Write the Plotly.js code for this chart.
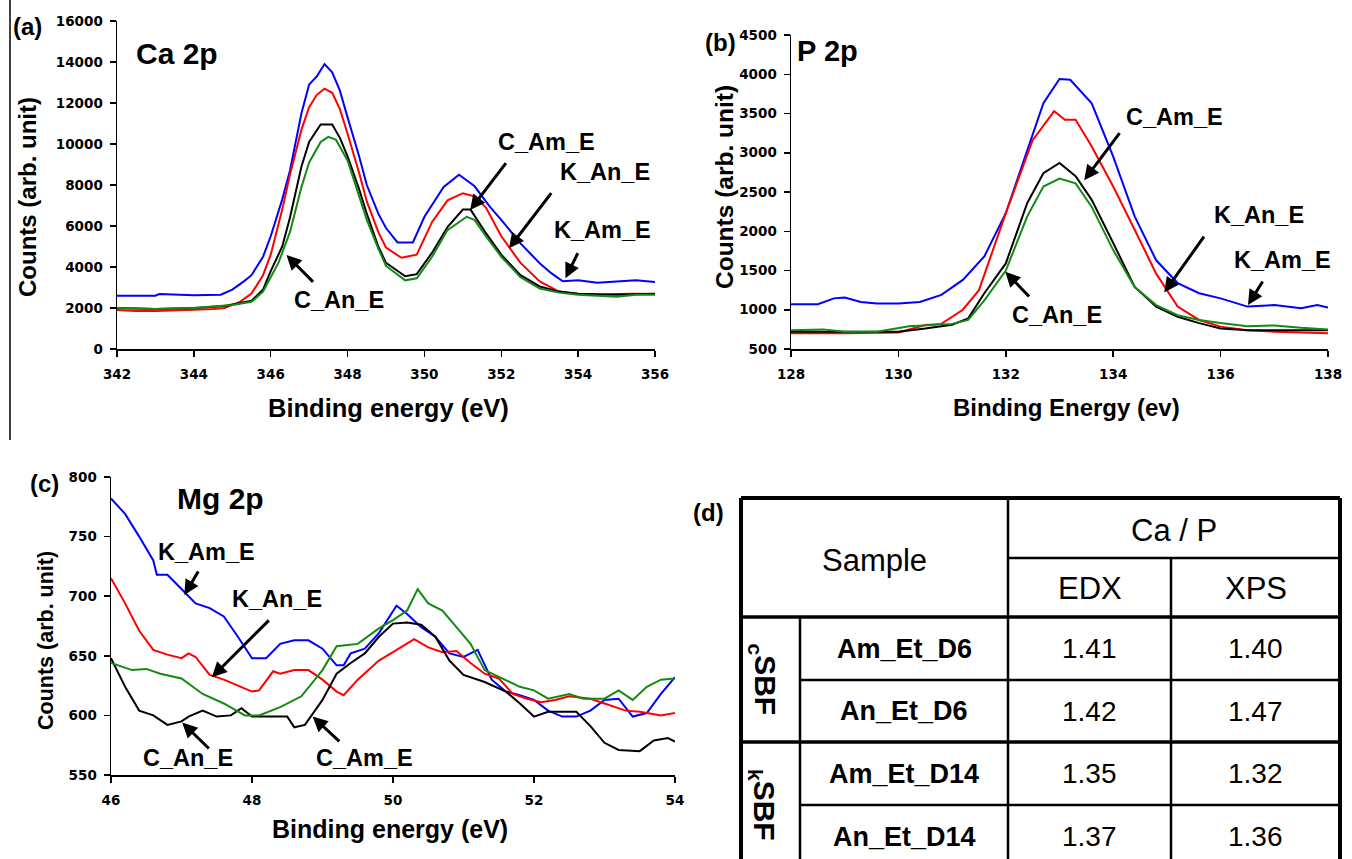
<!DOCTYPE html>
<html>
<head>
<meta charset="utf-8">
<script src="https://cdn.plot.ly/plotly-3.0.1.min.js"></script>
<style>html,body{margin:0;padding:0;background:#fff;}#chart{width:1352px;height:859px;}</style>
</head>
<body>
<div id="chart"></div>
<script>
// ---------------- DATA ----------------
// (a) Ca 2p
var caKAmE_x = [342, 343, 343.1, 344, 344.7, 345, 345.3, 345.5, 345.8, 346, 346.3, 346.5, 346.8, 347, 347.2, 347.4, 347.6, 347.8, 348, 348.3, 348.5, 348.8, 349, 349.3, 349.7, 350, 350.5, 350.9, 351.3, 351.7, 352, 352.5, 353, 353.3, 353.6, 354, 354.5, 355, 355.5, 356];
var caKAmE_y = [2600, 2600, 2680, 2620, 2650, 2900, 3300, 3600, 4500, 5500, 7300, 8700, 11500, 12900, 13300, 13900, 13500, 12600, 11300, 9400, 8000, 6600, 5900, 5200, 5200, 6450, 7900, 8500, 7950, 6950, 6300, 5150, 4180, 3700, 3300, 3350, 3230, 3280, 3350, 3270];
var caKAnE_x = [342, 342.5, 343, 343.5, 344, 344.5, 344.8, 345.2, 345.5, 345.8, 346, 346.3, 346.5, 346.8, 347, 347.2, 347.4, 347.6, 347.8, 348, 348.3, 348.5, 348.8, 349, 349.4, 349.8, 350.2, 350.6, 351, 351.3, 351.6, 352, 352.5, 353, 353.5, 354, 354.5, 355, 355.5, 356];
var caKAnE_y = [1900, 1850, 1850, 1900, 1920, 1950, 2000, 2300, 2700, 3600, 4600, 6800, 8500, 10700, 11800, 12400, 12700, 12500, 11700, 10500, 8600, 7200, 5700, 4950, 4450, 4600, 6200, 7250, 7600, 7450, 6900, 5500, 4200, 3300, 2800, 2680, 2650, 2680, 2700, 2680];
var caCAmE_x = [342, 343, 344, 344.8, 345.5, 345.8, 346, 346.3, 346.5, 346.8, 347, 347.3, 347.6, 347.8, 348, 348.3, 348.5, 348.8, 349, 349.5, 349.8, 350.2, 350.6, 351, 351.2, 351.6, 352, 352.5, 353, 353.5, 354, 355, 356];
var caCAmE_y = [2000, 1950, 2000, 2100, 2350, 2900, 3800, 5000, 6400, 8900, 10100, 10950, 10950, 10300, 9400, 7800, 6600, 5000, 4200, 3550, 3650, 4700, 5950, 6800, 6800, 5650, 4600, 3600, 3050, 2800, 2700, 2650, 2700];
var caCAnE_x = [342, 343, 344, 345, 345.5, 345.8, 346, 346.2, 346.5, 346.8, 347, 347.3, 347.5, 347.7, 348, 348.3, 348.5, 348.8, 349, 349.5, 349.8, 350.2, 350.6, 351.1, 351.3, 351.6, 352, 352.5, 353, 353.5, 354, 354.5, 355, 355.5, 356];
var caCAnE_y = [2000, 1950, 2000, 2150, 2300, 2800, 3500, 4200, 5700, 7900, 9100, 10100, 10350, 10200, 9200, 7400, 6300, 4900, 4050, 3350, 3450, 4500, 5800, 6450, 6300, 5500, 4500, 3500, 2950, 2750, 2650, 2600, 2550, 2650, 2650];

// (b) P 2p
var pKAmE_x = [128, 128.5, 128.8, 129, 129.3, 129.6, 130, 130.4, 130.8, 131.2, 131.6, 132, 132.4, 132.7, 133, 133.2, 133.6, 134, 134.4, 134.8, 135.2, 135.6, 136, 136.5, 137, 137.5, 137.8, 138];
var pKAmE_y = [1070, 1070, 1145, 1155, 1100, 1080, 1080, 1100, 1190, 1380, 1680, 2230, 3030, 3630, 3940, 3930, 3630, 2950, 2190, 1630, 1340, 1210, 1145, 1040, 1060, 1020, 1060, 1030];
var pKAnE_x = [128, 129, 130, 130.5, 130.8, 131, 131.2, 131.5, 132, 132.5, 132.9, 133.1, 133.3, 133.6, 134, 134.4, 134.8, 135.2, 135.6, 136, 136.5, 137, 137.5, 138];
var pKAnE_y = [700, 700, 710, 805, 820, 910, 1000, 1250, 2230, 3160, 3530, 3420, 3420, 3080, 2570, 2020, 1460, 1040, 870, 785, 740, 720, 710, 700];
var pCAmE_x = [128, 129, 130, 130.5, 131, 131.3, 131.6, 132, 132.4, 132.7, 133, 133.3, 133.6, 134, 134.4, 134.8, 135.2, 135.6, 136, 136.5, 137, 138];
var pCAmE_y = [720, 720, 720, 760, 810, 890, 1210, 1590, 2360, 2740, 2870, 2700, 2400, 1850, 1290, 1040, 910, 830, 760, 740, 740, 740];
var pCAnE_x = [128, 128.6, 129, 129.6, 130.2, 130.5, 131, 131.3, 131.6, 132, 132.4, 132.7, 133, 133.3, 133.6, 134, 134.4, 134.8, 135.2, 135.6, 136, 136.5, 137, 137.5, 138];
var pCAnE_y = [740, 750, 720, 720, 790, 800, 820, 870, 1120, 1500, 2190, 2570, 2670, 2610, 2310, 1760, 1290, 1060, 930, 870, 830, 790, 800, 770, 750];

// (c) Mg 2p
var mgKAmE_x = [46.0, 46.2, 46.4, 46.6, 46.65, 46.8, 47.0, 47.2, 47.4, 47.6, 47.8, 48.0, 48.2, 48.4, 48.6, 48.8, 49.0, 49.2, 49.3, 49.4, 49.6, 49.8, 50.05, 50.2, 50.4, 50.6, 50.8, 51.0, 51.2, 51.4, 51.6, 51.8, 52.0, 52.2, 52.4, 52.6, 52.8, 53.0, 53.2, 53.4, 53.6, 53.8, 54.0];
var mgKAmE_y = [782, 769, 750, 730, 718, 718, 706, 694, 690, 683, 666, 648, 648, 660, 663, 663, 656, 642, 642, 652, 656, 669, 692, 685, 674, 666, 652, 649, 655, 630, 620, 617, 613, 604, 599, 599, 604, 613, 614, 599, 602, 618, 632];
var mgKAnE_x = [46.0, 46.2, 46.4, 46.6, 46.8, 47.0, 47.1, 47.2, 47.4, 47.6, 47.8, 48.0, 48.1, 48.3, 48.4, 48.6, 48.8, 49.0, 49.2, 49.3, 49.5, 49.8, 50.0, 50.3, 50.5, 50.7, 50.9, 51.1, 51.3, 51.5, 51.7, 51.9, 52.1, 52.3, 52.5, 52.8, 53.0, 53.3, 53.5, 53.8, 54.0];
var mgKAnE_y = [715, 694, 671, 655, 651, 648, 652, 649, 634, 630, 625, 620, 621, 637, 635, 638, 638, 630, 620, 617, 630, 646, 653, 664, 657, 653, 654, 644, 635, 631, 618, 614, 611, 613, 616, 614, 610, 604, 603, 600, 602];
var mgCAmE_x = [46.0, 46.2, 46.4, 46.6, 46.8, 47.0, 47.1, 47.3, 47.5, 47.7, 47.85, 48.0, 48.3, 48.5, 48.6, 48.75, 49.0, 49.2, 49.4, 49.6, 49.8, 50.0, 50.2, 50.4, 50.6, 50.8, 51.0, 51.3, 51.6, 51.8, 52.0, 52.2, 52.6, 52.8, 53.0, 53.2, 53.5, 53.7, 53.9, 54.0];
var mgCAmE_y = [648, 624, 604, 600, 592, 595, 599, 604, 599, 600, 606, 599, 599, 599, 590, 592, 613, 635, 644, 652, 666, 677, 678, 676, 666, 646, 634, 628, 620, 610, 599, 603, 603, 591, 577, 571, 570, 579, 581, 578];
var mgCAnE_x = [46.0, 46.3, 46.5, 46.7, 47.0, 47.3, 47.6, 47.9, 48.1, 48.4, 48.7, 49.0, 49.2, 49.5, 49.8, 50.0, 50.2, 50.35, 50.5, 50.7, 50.9, 51.1, 51.3, 51.6, 51.8, 52.0, 52.2, 52.5, 52.7, 53.0, 53.2, 53.4, 53.6, 53.8, 54.0];
var mgCAnE_y = [644, 638, 639, 635, 631, 618, 610, 600, 600, 607, 616, 638, 658, 660, 673, 680, 688, 706, 694, 688, 674, 660, 638, 630, 624, 621, 614, 618, 614, 614, 621, 613, 624, 630, 631];

// (d) table
var tableGroups = ['<sub>c</sub>SBF', '<sub>k</sub>SBF'];
var tableSamples = ['Am_Et_D6', 'An_Et_D6', 'Am_Et_D14', 'An_Et_D14'];
var tableEDX = ['1.41', '1.42', '1.35', '1.37'];
var tableXPS = ['1.40', '1.47', '1.32', '1.36'];
var tableHeader = ['Sample', 'Ca / P', 'EDX', 'XPS'];

// ---------------- LAYOUT HELPERS ----------------
var W = 1352, H = 859;
function px(x) { return x / W; }
function py(y) { return 1 - y / H; }

var COL = {blue: '#0000ff', red: '#ff0000', black: '#000000', green: '#138a13'};
var tickFont = {family: 'DejaVu Sans', size: 13.5, color: '#000', weight: 'bold'};
var labFont = {family: 'Liberation Sans', size: 23.5, color: '#000', weight: 'bold'};

function tr(x, y, c, xa, ya, name) {
  return {x: x, y: y, type: 'scatter', mode: 'lines', name: name, xaxis: xa, yaxis: ya,
          line: {color: c, width: 2}, showlegend: false, hoverinfo: 'skip'};
}

var data = [
  tr(caKAmE_x, caKAmE_y, COL.blue, 'x', 'y', 'K_Am_E'),
  tr(caKAnE_x, caKAnE_y, COL.red, 'x', 'y', 'K_An_E'),
  tr(caCAmE_x, caCAmE_y, COL.black, 'x', 'y', 'C_Am_E'),
  tr(caCAnE_x, caCAnE_y, COL.green, 'x', 'y', 'C_An_E'),
  tr(pKAmE_x, pKAmE_y, COL.blue, 'x2', 'y2', 'K_Am_E'),
  tr(pKAnE_x, pKAnE_y, COL.red, 'x2', 'y2', 'K_An_E'),
  tr(pCAmE_x, pCAmE_y, COL.black, 'x2', 'y2', 'C_Am_E'),
  tr(pCAnE_x, pCAnE_y, COL.green, 'x2', 'y2', 'C_An_E'),
  tr(mgKAmE_x, mgKAmE_y, COL.blue, 'x3', 'y3', 'K_Am_E'),
  tr(mgKAnE_x, mgKAnE_y, COL.red, 'x3', 'y3', 'K_An_E'),
  tr(mgCAmE_x, mgCAmE_y, COL.black, 'x3', 'y3', 'C_Am_E'),
  tr(mgCAnE_x, mgCAnE_y, COL.green, 'x3', 'y3', 'C_An_E')
];

function ax(domain, range, dtick, anchor, standoff) {
  return {domain: domain, range: range, dtick: dtick, anchor: anchor, tickformat: 'd',
          showline: true, linecolor: '#000', linewidth: 1.5, ticks: 'outside', ticklen: 6,
          tickwidth: 1.5, tickcolor: '#000', showgrid: false, zeroline: false,
          tickfont: tickFont, fixedrange: true, ticklabelstandoff: standoff};
}

var layout = {
  width: W, height: H, margin: {l: 0, r: 0, t: 0, b: 0},
  paper_bgcolor: '#fff', plot_bgcolor: 'rgba(0,0,0,0)', showlegend: false,
  xaxis: ax([px(117), px(655)], [342, 356], 2, 'y', 6),
  yaxis: ax([py(349), py(21)], [0, 16000], 2000, 'x', 4),
  xaxis2: ax([px(791), px(1328)], [128, 138], 2, 'y2', 6),
  yaxis2: ax([py(349), py(35)], [500, 4500], 500, 'x2', 4),
  xaxis3: ax([px(111), px(675)], [46, 54], 2, 'y3', 6),
  yaxis3: ax([py(775), py(477)], [550, 800], 50, 'x3', 4),
  annotations: [], shapes: []
};

var A = layout.annotations, S = layout.shapes;

function ptext(t, x, y, font, angle) {
  A.push({text: t, xref: 'paper', yref: 'paper', x: px(x), y: py(y), xanchor: 'center', yanchor: 'middle',
          showarrow: false, font: font, textangle: angle || 0});
}
function dtext(t, x, y, xr, yr, font) {
  A.push({text: t, xref: xr, yref: yr, x: x, y: y, xanchor: 'center', yanchor: 'middle', showarrow: false, font: font || labFont});
}
function arrow(tx, ty, hx, hy, xr, yr) {
  A.push({text: '', xref: xr, yref: yr, axref: xr, ayref: yr, x: hx, y: hy, ax: tx, ay: ty,
          showarrow: true, arrowhead: 2, arrowsize: 1, arrowwidth: 3, arrowcolor: '#000', standoff: 0, startstandoff: 0});
}
function tf(size) { return {family: 'Liberation Sans', size: size, color: '#000', weight: 'bold'}; }

var panelFont = tf(24);
var elemFont = tf(30);

// panel letters
ptext('(a)', 27, 27, panelFont);
ptext('(b)', 720, 43, panelFont);
ptext('(c)', 44, 483, panelFont);
ptext('(d)', 708, 512, panelFont);

// axis titles
ptext('Counts (arb. unit)', 27, 197, tf(24), -90);
ptext('Binding energy (eV)', 388, 408, tf(25.5));
ptext('Counts (arb. unit)', 724, 187, tf(24.5), -90);
ptext('Binding Energy (ev)', 1066, 407, tf(24));
ptext('Counts (arb. unit)', 46, 641, tf(21.5), -90);
ptext('Binding energy (eV)', 390, 829, tf(25));

// element labels
dtext('Ca 2p', 343.55, 14420, 'x', 'y', elemFont);
dtext('P 2p', 128.68, 4290, 'x2', 'y2', tf(29));
dtext('Mg 2p', 47.55, 782, 'x3', 'y3', elemFont);

// panel (a) labels & arrows
dtext('C_Am_E', 353.17, 10110, 'x', 'y');
dtext('K_An_E', 354.69, 8650, 'x', 'y');
dtext('K_Am_E', 354.64, 5800, 'x', 'y');
dtext('C_An_E', 347.77, 2390, 'x', 'y');
arrow(352.15, 9140, 351.19, 6780, 'x', 'y');
arrow(353.33, 7680, 352.2, 4910, 'x', 'y');
arrow(354.01, 4750, 353.67, 3450, 'x', 'y');
arrow(347.14, 3200, 346.41, 4590, 'x', 'y');

// panel (b)
dtext('C_Am_E', 135.15, 3460, 'x2', 'y2');
dtext('K_An_E', 136.71, 2210, 'x2', 'y2');
dtext('K_Am_E', 137.16, 1630, 'x2', 'y2');
dtext('C_An_E', 132.96, 933, 'x2', 'y2');
arrow(134.14, 3270, 133.46, 2650, 'x2', 'y2');
arrow(135.71, 1950, 134.95, 1220, 'x2', 'y2');
arrow(136.8, 1380, 136.51, 1060, 'x2', 'y2');
arrow(132.46, 1150, 131.99, 1485, 'x2', 'y2');

// panel (c)
dtext('K_Am_E', 47.35, 737, 'x3', 'y3');
dtext('K_An_E', 48.36, 698, 'x3', 'y3');
dtext('C_An_E', 47.09, 564, 'x3', 'y3');
dtext('C_Am_E', 49.59, 564, 'x3', 'y3');
arrow(47.25, 722, 47.04, 701, 'x3', 'y3');
arrow(48.26, 681, 47.43, 632, 'x3', 'y3');
arrow(47.41, 571, 47.01, 594, 'x3', 'y3');
arrow(49.26, 577, 48.86, 599, 'x3', 'y3');

// left border line of panel (a)
S.push({type: 'line', xref: 'paper', yref: 'paper', x0: px(10), x1: px(10), y0: py(0), y1: py(440), line: {color: '#000', width: 1.5}});

// ---------------- TABLE (d) ----------------
var T = {l: 741, r: 1340, t: 498, b: 875, c1: 800, c2: 1008, c3: 1171, h1: 558, h2: 617, rows: [617, 680, 742, 805, 868]};
function pline(x0, y0, x1, y1, w) {
  S.push({type: 'line', xref: 'paper', yref: 'paper', x0: px(x0), y0: py(y0), x1: px(x1), y1: py(y1), line: {color: '#000', width: w}});
}
pline(T.l, T.t, T.r, T.t, 4);
pline(T.l, T.t, T.l, T.b, 4);
pline(T.r, T.t, T.r, T.b, 4);
pline(T.c2, T.t, T.c2, T.b, 2.5);
pline(T.c2, T.h1, T.r, T.h1, 2.5);
pline(T.c3, T.h1, T.c3, T.b, 2.5);
pline(T.l, T.h2, T.r, T.h2, 3.5);
pline(T.c1, T.h2, T.c1, T.b, 2.5);
pline(T.c1, T.rows[1], T.r, T.rows[1], 2.5);
pline(T.l, T.rows[2], T.r, T.rows[2], 3.5);
pline(T.c1, T.rows[3], T.r, T.rows[3], 2.5);

var hdrFont = {family: 'Liberation Sans', size: 31, color: '#000'};
var valFont = {family: 'Liberation Sans', size: 28, color: '#000'};
var nameFont = tf(27);
var grpFont = tf(30);

ptext(tableHeader[0], (T.l + T.c2) / 2, 560, hdrFont);
ptext(tableHeader[1], (T.c2 + T.r) / 2, 530, hdrFont);
ptext(tableHeader[2], (T.c2 + T.c3) / 2, 588, hdrFont);
ptext(tableHeader[3], (T.c3 + T.r) / 2, 588, hdrFont);
for (var i = 0; i < tableSamples.length; i++) {
  var cy = (T.rows[i] + T.rows[i + 1]) / 2;
  ptext(tableSamples[i], (T.c1 + T.c2) / 2, cy, nameFont);
  ptext(tableEDX[i], (T.c2 + T.c3) / 2, cy, valFont);
  ptext(tableXPS[i], (T.c3 + T.r) / 2, cy, valFont);
}
for (var g = 0; g < tableGroups.length; g++) {
  var gy = (T.rows[2 * g] + T.rows[2 * g + 2]) / 2;
  ptext(tableGroups[g], 763, gy, grpFont, 90);
}

Plotly.newPlot('chart', data, layout, {staticPlot: true, displayModeBar: false});
</script>
</body>
</html>
